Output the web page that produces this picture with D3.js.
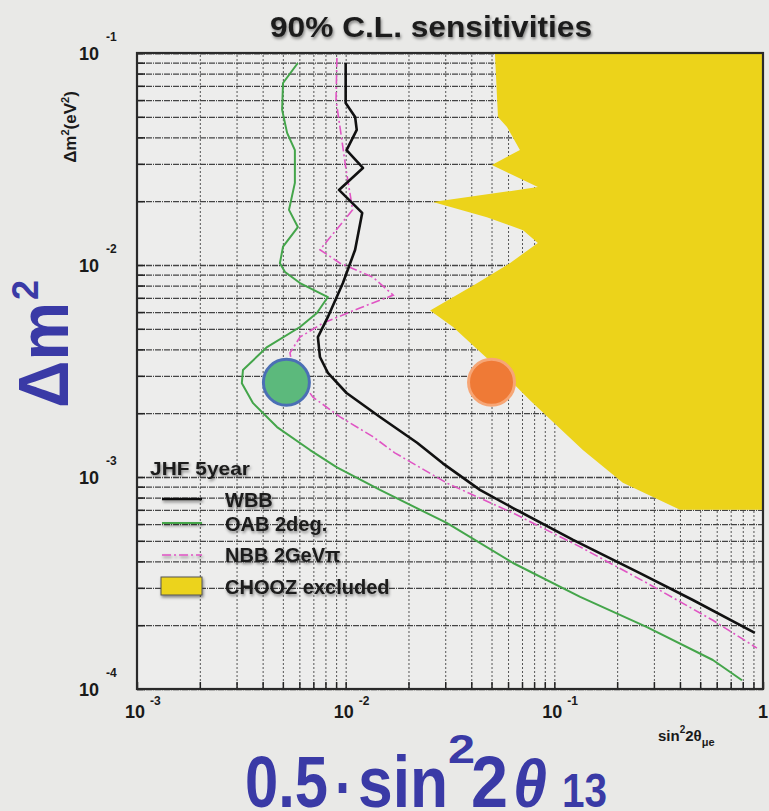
<!DOCTYPE html>
<html>
<head>
<meta charset="utf-8">
<script src="https://cdn.jsdelivr.net/npm/d3@7/dist/d3.min.js"></script>
<style>
    html, body { margin: 0; padding: 0; background: #e9e9e7; }
    svg { display: block; font-family: "Liberation Sans", Arial, sans-serif; }
</style>
</head>
<body>
<svg id="chart" width="769" height="811"></svg>
<script>
// sensitivity curves: [sin^2 2theta, dm^2]
const wbbX = [0.0100, 0.0100, 0.0111, 0.0113, 0.0101, 0.0121, 0.00929, 0.0120, 0.0111, 0.00970, 0.00822, 0.00736, 0.00753, 0.00822, 0.0101, 0.0146, 0.0220, 0.0292, 0.0440, 0.0634, 0.123, 0.257, 0.461, 0.914];
const wbbY = [0.0897, 0.0581, 0.0499, 0.0434, 0.0348, 0.0287, 0.0226, 0.0176, 0.0118, 0.00822, 0.00569, 0.00457, 0.00368, 0.00310, 0.00249, 0.00192, 0.00145, 0.00116, 0.000869, 0.000714, 0.000505, 0.000352, 0.000263, 0.000184];

const oabX = [0.00590, 0.00501, 0.00496, 0.00524, 0.00571, 0.00571, 0.00535, 0.00590, 0.00501, 0.00484, 0.00512, 0.00604, 0.00822, 0.00728, 0.00604, 0.00420, 0.00322, 0.00318, 0.00360, 0.00469, 0.00675, 0.00908, 0.0146, 0.0305, 0.0634, 0.133, 0.278, 0.575, 0.793];
const oabY = [0.0897, 0.0722, 0.0539, 0.0420, 0.0348, 0.0244, 0.0182, 0.0151, 0.0122, 0.0102, 0.00927, 0.00822, 0.00706, 0.00594, 0.00510, 0.00410, 0.00320, 0.00277, 0.00223, 0.00172, 0.00134, 0.00111, 0.000869, 0.000607, 0.000393, 0.000272, 0.000196, 0.000137, 0.000110];

const nbbX = [0.00908, 0.00899, 0.00948, 0.0100, 0.0108, 0.00753, 0.00940, 0.0135, 0.0169, 0.0117, 0.00778, 0.00604, 0.00541, 0.00559, 0.00697, 0.00940, 0.0135, 0.0172, 0.0305, 0.0634, 0.133, 0.278, 0.575, 0.935];
const nbbY = [0.0947, 0.0600, 0.0420, 0.0290, 0.0182, 0.0118, 0.0102, 0.00877, 0.00721, 0.00627, 0.00532, 0.00457, 0.00385, 0.00320, 0.00238, 0.00192, 0.00155, 0.00130, 0.000937, 0.000676, 0.000468, 0.000316, 0.000211, 0.000156];

// CHOOZ excluded region boundary
const choozX = [0.0519, 0.0537, 0.0593, 0.0684, 0.0502, 0.0834, 0.0262, 0.0475, 0.0708, 0.0834, 0.0612, 0.0426, 0.0254, 0.0327, 0.0395, 0.0548, 0.0764, 0.137, 0.213, 0.400, 1, 1];
const choozY = [0.1, 0.0499, 0.0448, 0.0349, 0.0296, 0.0233, 0.0198, 0.0168, 0.0146, 0.0127, 0.0102, 0.0082, 0.0061, 0.0051, 0.0043, 0.0032, 0.0023, 0.00134, 0.00094, 0.0007, 0.0007, 0.1];

// the two marked points
const markX = [0.0052, 0.050];
const markY = [0.0028, 0.0028];

const xTicks = [1e-3, 1e-2, 1e-1, 1];
const xTickBase = ["10", "10", "10", "1"];
const xTickExp = ["-3", "-2", "-1", ""];
const yTicks = [1e-4, 1e-3, 1e-2, 1e-1];
const yTickBase = ["10", "10", "10", "10"];
const yTickExp = ["-4", "-3", "-2", "-1"];

const legendNames = ["WBB", "OAB 2deg.", "NBB 2GeVπ", "CHOOZ excluded"];

const svg = d3.select("#chart");
const pLeft = 137, pRight = 763, pTop = 53, pBottom = 689;

const x = d3.scaleLog().domain([1e-3, 1]).range([pLeft, pRight]);
const y = d3.scaleLog().domain([1e-4, 1e-1]).range([pBottom, pTop]);

const defs = svg.append("defs");
const shadow = defs.append("filter").attr("id", "shadow")
    .attr("x", "-10%").attr("y", "-20%").attr("width", "130%").attr("height", "160%");
shadow.append("feDropShadow").attr("dx", 1).attr("dy", 2).attr("stdDeviation", 1.6)
    .attr("flood-color", "#000").attr("flood-opacity", 0.45);
defs.append("clipPath").attr("id", "plotclip").append("rect")
    .attr("x", pLeft).attr("y", pTop).attr("width", pRight - pLeft).attr("height", pBottom - pTop);

// plot background
svg.append("rect").attr("x", pLeft).attr("y", pTop)
    .attr("width", pRight - pLeft).attr("height", pBottom - pTop)
    .attr("fill", "#ededec");

const minor = [];
for (let e = -4; e < 0; e++) for (let k = 1; k < 10; k++) minor.push(k * Math.pow(10, e));
const xMinor = minor.filter(v => v >= 1e-3 && v <= 1).concat([1]);
const yMinor = minor.filter(v => v >= 1e-4 && v <= 1e-1).concat([1e-1]);

// grid
svg.append("g")
    .attr("transform", `translate(0,${pBottom})`)
    .call(d3.axisBottom(x).tickValues(xMinor).tickSize(-(pBottom - pTop)).tickFormat(""))
    .call(g => g.select(".domain").remove())
    .call(g => g.selectAll("line").attr("stroke", "#555").attr("stroke-width", 1)
        .attr("stroke-dasharray", "2,2"));
svg.append("g")
    .attr("transform", `translate(${pLeft},0)`)
    .call(d3.axisLeft(y).tickValues(yMinor).tickSize(-(pRight - pLeft)).tickFormat(""))
    .call(g => g.select(".domain").remove())
    .call(g => g.selectAll("line").attr("stroke", "#444").attr("stroke-width", 1.3)
        .attr("stroke-dasharray", "6,1,1,1"));

const plot = svg.append("g").attr("clip-path", "url(#plotclip)");

// CHOOZ excluded region
plot.append("path")
    .datum(d3.zip(choozX, choozY))
    .attr("fill", "#ecd31a")
    .attr("d", d3.line().x(d => x(d[0])).y(d => y(d[1])));

const line = d3.line().x(d => x(d[0])).y(d => y(d[1]));

plot.append("path").datum(d3.zip(nbbX, nbbY))
    .attr("fill", "none").attr("stroke", "#e055c4").attr("stroke-width", 1.6)
    .attr("stroke-dasharray", "9,3,2,3").attr("d", line);
plot.append("path").datum(d3.zip(oabX, oabY))
    .attr("fill", "none").attr("stroke", "#44a54a").attr("stroke-width", 2)
    .attr("stroke-linejoin", "round").attr("d", line);
plot.append("path").datum(d3.zip(wbbX, wbbY))
    .attr("fill", "none").attr("stroke", "#111").attr("stroke-width", 2.6)
    .attr("stroke-linejoin", "round").attr("d", line);

// marked points
const markFill = ["#5cb97c", "#ef7a36"];
const markStroke = ["#4b6fb5", "#f6a676"];
plot.selectAll(".mark")
    .data(d3.zip(markX, markY))
    .join("circle")
    .attr("class", "mark")
    .attr("cx", d => x(d[0]))
    .attr("cy", d => y(d[1]))
    .attr("r", 23)
    .attr("fill", (d, i) => markFill[i])
    .attr("stroke", (d, i) => markStroke[i])
    .attr("stroke-width", 3);

// frame and inner ticks
svg.append("g")
    .attr("transform", `translate(0,${pBottom})`)
    .call(d3.axisBottom(x).tickValues(xMinor).tickSize(-7).tickFormat(""))
    .call(g => g.selectAll("line").attr("stroke", "#222").attr("stroke-width", 1.5))
    .call(g => g.select(".domain").remove());
svg.append("g")
    .attr("transform", `translate(${pLeft},0)`)
    .call(d3.axisLeft(y).tickValues(yMinor).tickSize(-8).tickFormat(""))
    .call(g => g.selectAll("line").attr("stroke", "#222").attr("stroke-width", 1.5))
    .call(g => g.select(".domain").remove());
svg.append("rect").attr("x", pLeft).attr("y", pTop)
    .attr("width", pRight - pLeft).attr("height", pBottom - pTop)
    .attr("fill", "none").attr("stroke", "#2a2a2a").attr("stroke-width", 2.2);

// tick labels
const lab = svg.append("g").attr("fill", "#1a1a1a").attr("font-weight", "bold");
xTicks.forEach((v, i) => {
    lab.append("text").attr("x", Math.min(x(v) + 8, 768)).attr("y", 718)
        .attr("text-anchor", "end").attr("font-size", 18).text(xTickBase[i]);
    lab.append("text").attr("x", x(v) + 13).attr("y", 705)
        .attr("font-size", 12).text(xTickExp[i]);
});
yTicks.forEach((v, i) => {
    lab.append("text").attr("x", 99).attr("y", y(v) + 7)
        .attr("text-anchor", "end").attr("font-size", 18).text(yTickBase[i]);
    lab.append("text").attr("x", 106).attr("y", y(v) - 12)
        .attr("font-size", 12).text(yTickExp[i]);
});

// axis titles
const ytitle = lab.append("text")
    .attr("transform", "translate(76,127) rotate(-90)")
    .attr("text-anchor", "middle").attr("font-size", 17);
ytitle.append("tspan").text("Δm");
ytitle.append("tspan").attr("font-size", 11).attr("dy", -7).text("2");
ytitle.append("tspan").attr("dy", 7).text("(eV");
ytitle.append("tspan").attr("font-size", 11).attr("dy", -7).text("2");
ytitle.append("tspan").attr("dy", 7).text(")");

const xtitle = lab.append("text").attr("x", 658).attr("y", 741).attr("font-size", 15);
xtitle.append("tspan").text("sin");
xtitle.append("tspan").attr("font-size", 10).attr("dy", -8).text("2");
xtitle.append("tspan").attr("dy", 8).text("2θ");
xtitle.append("tspan").attr("font-size", 11).attr("dy", 5).text("μe");

// title
svg.append("text")
    .attr("x", 270).attr("y", 37)
    .attr("font-size", 29).attr("font-weight", "bold").attr("fill", "#1c1c1c")
    .attr("textLength", 322).attr("lengthAdjust", "spacingAndGlyphs")
    .attr("filter", "url(#shadow)")
    .text("90% C.L. sensitivities");

// legend
const legend = svg.append("g").attr("font-weight", "bold").attr("fill", "#1a1a1a")
    .attr("filter", "url(#shadow)");
legend.append("text").attr("x", 150).attr("y", 475).attr("font-size", 19)
    .attr("textLength", 100).attr("lengthAdjust", "spacingAndGlyphs").text("JHF 5year");
const legY = [499, 523, 555, 586];
const legText = [507, 531, 562, 594];
legend.append("line").attr("x1", 162).attr("x2", 202).attr("y1", legY[0]).attr("y2", legY[0])
    .attr("stroke", "#111").attr("stroke-width", 2.6);
legend.append("line").attr("x1", 162).attr("x2", 202).attr("y1", legY[1]).attr("y2", legY[1])
    .attr("stroke", "#44a54a").attr("stroke-width", 2);
legend.append("line").attr("x1", 162).attr("x2", 202).attr("y1", legY[2]).attr("y2", legY[2])
    .attr("stroke", "#e055c4").attr("stroke-width", 1.6).attr("stroke-dasharray", "9,3,2,3");
legend.append("rect").attr("x", 161).attr("y", legY[3] - 9).attr("width", 41).attr("height", 18)
    .attr("fill", "#ecd31a").attr("stroke", "#555").attr("stroke-width", 1);
legendNames.forEach((n, i) => {
    legend.append("text").attr("x", 225).attr("y", legText[i])
        .attr("font-size", 20).text(n);
});

// big blue labels
const blue = "#3a3aa6";
const dm = svg.append("text")
    .attr("transform", "translate(68,408) rotate(-90)")
    .attr("fill", blue).attr("font-size", 70).attr("font-weight", "bold");
dm.append("tspan").attr("textLength", 106).attr("lengthAdjust", "spacingAndGlyphs").text("Δm");
dm.append("tspan").attr("font-size", 36).attr("dy", -30).attr("dx", 2).text("2");

const big = svg.append("text").attr("fill", blue).attr("font-weight", "bold");
const bigParts = [
    { t: "0.5", x: 245, y: 807, s: 72, w: 83 },
    { t: "·", x: 335, y: 810, s: 66, w: 18 },
    { t: "sin", x: 358, y: 807, s: 72, w: 90 },
    { t: "2", x: 448, y: 763, s: 40, w: 27 },
    { t: "2", x: 471, y: 807, s: 72, w: 37 },
    { t: "θ", x: 513, y: 807, s: 66, w: 34, it: true },
    { t: "13", x: 562, y: 807, s: 48, w: 45 }
];
bigParts.forEach(p => {
    big.append("tspan")
        .attr("x", p.x).attr("y", p.y)
        .attr("font-size", p.s)
        .attr("font-style", p.it ? "italic" : null)
        .attr("textLength", p.w).attr("lengthAdjust", "spacingAndGlyphs")
        .text(p.t);
});
</script>
</body>
</html>
